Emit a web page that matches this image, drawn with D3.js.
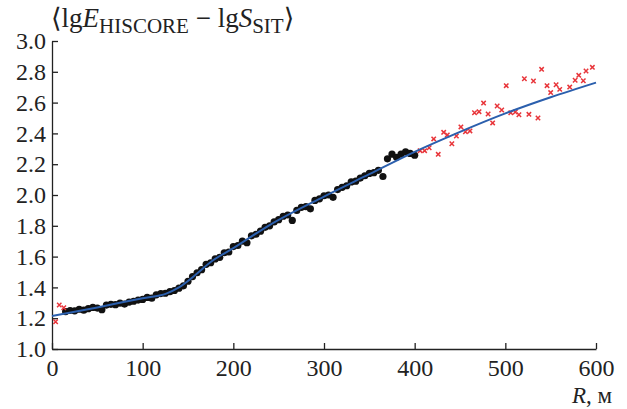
<!DOCTYPE html>
<html lang="ru">
<head>
  <meta charset="utf-8" />
  <title>lgE - lgS vs R</title>
  <style>
    body { margin: 0; background: #fff; }
    svg text { font-family: "Times New Roman", "Liberation Serif", "DejaVu Serif", serif; fill: #222; }
    .axis path, .axis line { stroke: #222; stroke-width: 1.3px; }
  </style>
  <script src="https://d3js.org/d3.v7.min.js"></script>
</head>
<body>
  <svg width="627" height="409"></svg>
  <script>
    // black points: R, м
    const blackR = [15, 20, 25, 30, 35, 40, 45, 50, 55, 60, 65, 70, 75, 80, 85, 90, 95, 100,
      105, 110, 115, 120, 125, 130, 135, 140, 145, 150, 155, 160, 165, 170, 175, 180, 185,
      190, 195, 200, 205, 210, 215, 220, 225, 230, 235, 240, 245, 250, 255, 260, 265, 270,
      275, 280, 285, 290, 295, 300, 305, 310, 315, 320, 325, 330, 335, 340, 345, 350, 355,
      360, 365, 370, 375, 380, 385, 390, 395, 400];
    const blackV = [1.243, 1.25, 1.248, 1.258, 1.252, 1.262, 1.27, 1.266, 1.255, 1.285, 1.29,
      1.288, 1.298, 1.292, 1.305, 1.31, 1.318, 1.322, 1.335, 1.33, 1.352, 1.36, 1.362, 1.372,
      1.38, 1.395, 1.41, 1.44, 1.47, 1.495, 1.515, 1.55, 1.56, 1.585, 1.595, 1.625, 1.63,
      1.665, 1.672, 1.7, 1.69, 1.735, 1.745, 1.765, 1.79, 1.8, 1.825, 1.84, 1.862, 1.87,
      1.835, 1.9, 1.92, 1.925, 1.91, 1.965, 1.975, 1.995, 2.0, 1.985, 2.035, 2.05, 2.06,
      2.085, 2.09, 2.11, 2.125, 2.14, 2.145, 2.16, 2.12, 2.235, 2.265, 2.245, 2.265, 2.28,
      2.27, 2.258];

    // red crosses
    const redR = [4, 8, 13, 406, 411, 416, 421, 426, 432, 436, 441, 446, 451, 456, 461, 466,
      471, 476, 481, 486, 491, 496, 501, 506, 511, 515, 521, 526, 531, 536, 540, 546, 550,
      556, 560, 571, 577, 581, 586, 589, 596];
    const redV = [1.177, 1.286, 1.268, 2.288, 2.288, 2.307, 2.364, 2.264, 2.407, 2.39, 2.333,
      2.383, 2.442, 2.411, 2.416, 2.534, 2.541, 2.597, 2.526, 2.468, 2.578, 2.552, 2.71,
      2.534, 2.539, 2.521, 2.755, 2.524, 2.74, 2.5, 2.816, 2.71, 2.665, 2.716, 2.686,
      2.701, 2.745, 2.777, 2.742, 2.805, 2.829];

    // fitted curve
    const fitR = [0, 50, 100, 126, 140, 160, 175, 200, 240, 300, 350, 400, 450, 500, 550, 600];
    const fitV = [1.214, 1.27, 1.33, 1.36, 1.40, 1.49, 1.565, 1.655, 1.805, 1.99, 2.135,
      2.28, 2.41, 2.53, 2.635, 2.73];

    const xTicks = [0, 100, 200, 300, 400, 500, 600];
    const yTicks = [1.0, 1.2, 1.4, 1.6, 1.8, 2.0, 2.2, 2.4, 2.6, 2.8, 3.0];

    const svg = d3.select("svg");
    const x = d3.scaleLinear().domain([0, 600]).range([52, 596]);
    const y = d3.scaleLinear().domain([1.0, 3.0]).range([349, 41]);

    const gx = svg.append("g")
      .attr("class", "axis")
      .attr("transform", `translate(0,${y(1.0)})`)
      .call(d3.axisBottom(x).tickValues(xTicks).tickFormat(d3.format("d"))
        .tickSizeInner(-6).tickSizeOuter(0).tickPadding(10));

    const gy = svg.append("g")
      .attr("class", "axis")
      .attr("transform", `translate(${x(0)},0)`)
      .call(d3.axisLeft(y).tickValues(yTicks).tickFormat(d3.format(".1f"))
        .tickSizeInner(-6).tickSizeOuter(0).tickPadding(6));

    gx.attr("font-size", 24);
    gy.attr("font-size", 24);
    svg.selectAll(".axis .domain").attr("fill", "none");

    const black = blackR.map((r, i) => ({ r, v: blackV[i] }));
    const red = redR.map((r, i) => ({ r, v: redV[i] }));
    const fit = fitR.map((r, i) => ({ r, v: fitV[i] }));

    svg.append("g")
      .selectAll("circle")
      .data(black)
      .join("circle")
      .attr("cx", d => x(d.r))
      .attr("cy", d => y(d.v))
      .attr("r", 3.6)
      .attr("fill", "#111");

    const s = 2.2;
    svg.append("g")
      .attr("stroke", "#e8353a")
      .attr("stroke-width", 1.5)
      .selectAll("path")
      .data(red)
      .join("path")
      .attr("d", d => {
        const cx = x(d.r), cy = y(d.v);
        return `M${cx - s},${cy - s}L${cx + s},${cy + s}M${cx - s},${cy + s}L${cx + s},${cy - s}`;
      });

    const line = d3.line()
      .x(d => x(d.r))
      .y(d => y(d.v))
      .curve(d3.curveMonotoneX);

    svg.append("path")
      .datum(fit)
      .attr("d", line)
      .attr("fill", "none")
      .attr("stroke", "#2b5fad")
      .attr("stroke-width", 2);

    // y title
    const title = svg.append("text")
      .attr("x", 51)
      .attr("y", 27)
      .attr("font-size", 27);
    title.append("tspan").text("⟨lg");
    title.append("tspan").attr("font-style", "italic").text("E");
    title.append("tspan").attr("font-size", 21).attr("dy", 6).text("HISCORE");
    title.append("tspan").attr("dy", -6).text(" − lg");
    title.append("tspan").attr("font-style", "italic").text("S");
    title.append("tspan").attr("font-size", 21).attr("dy", 6).text("SIT");
    title.append("tspan").attr("dy", -6).text("⟩");

    // x title
    const xt = svg.append("text")
      .attr("x", 612)
      .attr("y", 403)
      .attr("text-anchor", "end")
      .attr("font-size", 23);
    xt.append("tspan").attr("font-style", "italic").text("R");
    xt.append("tspan").text(", м");
  </script>
</body>
</html>
